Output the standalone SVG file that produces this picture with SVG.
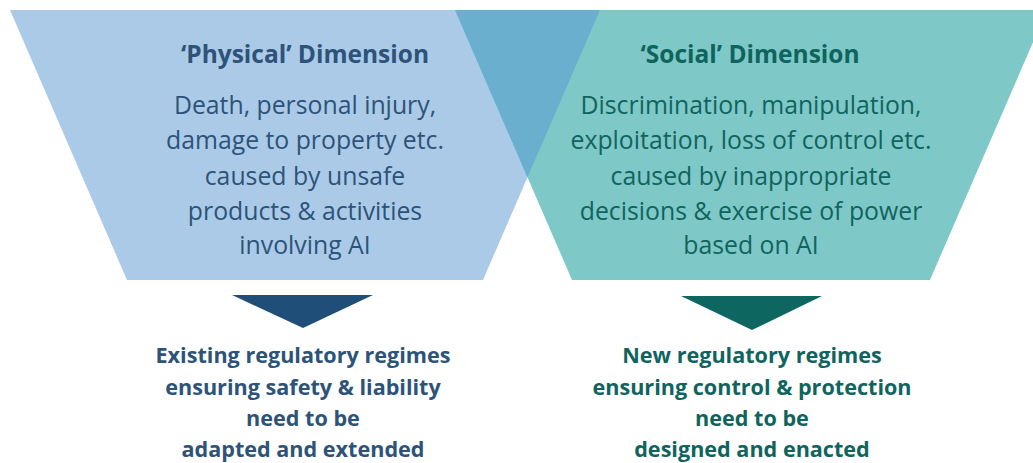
<svg xmlns="http://www.w3.org/2000/svg" width="1033" height="463" viewBox="0 0 1033 463">
<style>
.title{font-family:"Open Sans","Liberation Sans",sans-serif;font-weight:bold;font-size:24.5px;text-anchor:middle}
.body{font-family:"Open Sans","Liberation Sans",sans-serif;font-size:24.8px;text-anchor:middle}
.res{font-family:"Open Sans","Liberation Sans",sans-serif;font-weight:bold;font-size:21.6px;text-anchor:middle}
.blue{fill:#2D5378}
.teal{fill:#0F645E}
</style>
<rect width="1033" height="463" fill="#ffffff"/>
<g id="physical">
<polygon points="10,10 600,10 483,280 127,280" fill="#ABCAE8"/>
<text class="title blue" x="305" y="63">‘Physical’ Dimension</text>
<text class="body blue" x="305" y="114">Death, personal injury,</text>
<text class="body blue" x="305" y="149">damage to property etc.</text>
<text class="body blue" x="305" y="185">caused by unsafe</text>
<text class="body blue" x="305" y="220">products &amp; activities</text>
<text class="body blue" x="305" y="254">involving AI</text>
</g>
<g id="social">
<polygon points="455,10 1047,10 930,280 572,280" fill="#7FC8C8"/>
<text class="title teal" x="750" y="63">‘Social’ Dimension</text>
<text class="body teal" x="751" y="114">Discrimination, manipulation,</text>
<text class="body teal" x="751" y="149">exploitation, loss of control etc.</text>
<text class="body teal" x="751" y="185">caused by inappropriate</text>
<text class="body teal" x="751" y="220">decisions &amp; exercise of power</text>
<text class="body teal" x="751" y="254">based on AI</text>
</g>
<g id="overlap">
<polygon points="455,10 600,10 527.5,177.3" fill="#6AAFCD"/>
</g>
<g id="connectors">
<polygon points="232,295 373,295 303,328" fill="#1F4E79"/>
<polygon points="681,296 822,296 752,330" fill="#0E6660"/>
</g>
<g id="existing">
<text class="res blue" x="303" y="363">Existing regulatory regimes</text>
<text class="res blue" x="303" y="395">ensuring safety &amp; liability</text>
<text class="res blue" x="303" y="426">need to be</text>
<text class="res blue" x="303" y="457">adapted and extended</text>
</g>
<g id="new">
<text class="res teal" x="752" y="363">New regulatory regimes</text>
<text class="res teal" x="752" y="395">ensuring control &amp; protection</text>
<text class="res teal" x="752" y="426">need to be</text>
<text class="res teal" x="752" y="457">designed and enacted</text>
</g>
</svg>
